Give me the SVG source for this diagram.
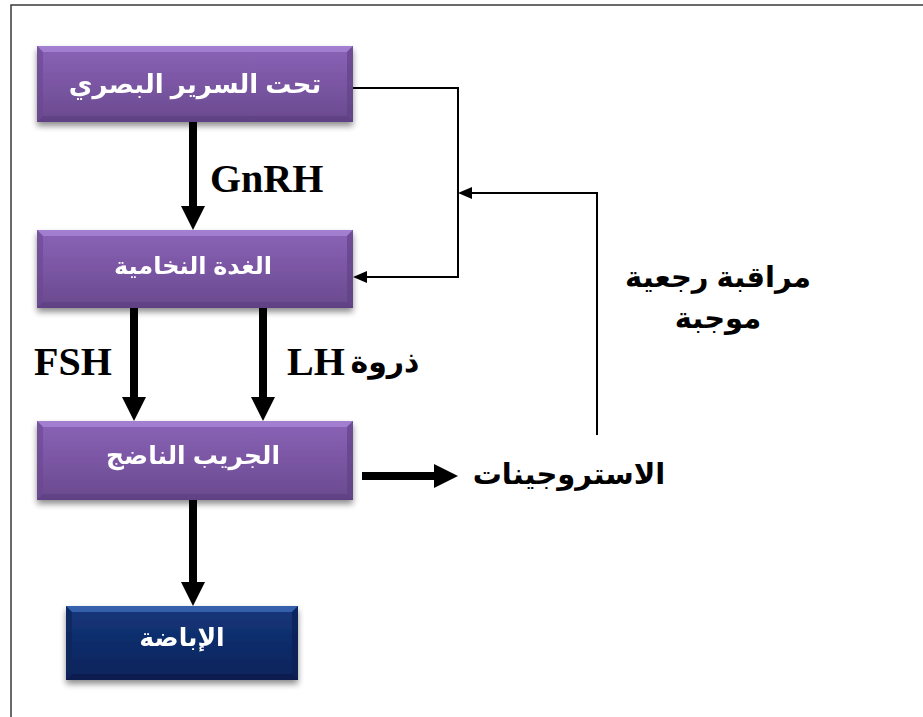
<svg xmlns="http://www.w3.org/2000/svg" width="923" height="717" viewBox="0 0 923 717">
<defs>
<style>
.frame{fill:none;stroke:#3a3a3a;stroke-width:1.5}
.lbl{font-family:"Liberation Sans","DejaVu Sans",sans-serif;font-weight:bold;fill:#ffffff;text-anchor:middle}
.blk{font-family:"Liberation Sans","DejaVu Sans",sans-serif;font-weight:bold;fill:#000000;text-anchor:middle}
.lat{font-family:"Liberation Serif","Times New Roman",serif;font-weight:bold;fill:#000000}
.thick{stroke:#000;stroke-width:8;fill:none}
.thin{stroke:#000;stroke-width:2;fill:none}
.head{fill:#000}
</style>
<linearGradient id="gp" x1="0" y1="0" x2="0" y2="1">
<stop offset="0" stop-color="#8a63b8"/>
<stop offset="0.5" stop-color="#7a56a3"/>
<stop offset="1" stop-color="#6a4a8e"/>
</linearGradient>
<linearGradient id="gb" x1="0" y1="0" x2="0" y2="1">
<stop offset="0" stop-color="#17387c"/>
<stop offset="0.5" stop-color="#0e2c6a"/>
<stop offset="1" stop-color="#0a245c"/>
</linearGradient>
<filter id="sh" x="-10%" y="-10%" width="120%" height="140%">
<feGaussianBlur in="SourceAlpha" stdDeviation="3"/>
<feOffset dx="0" dy="4" result="b"/>
<feComponentTransfer><feFuncA type="linear" slope="0.45"/></feComponentTransfer>
<feMerge><feMergeNode/><feMergeNode in="SourceGraphic"/></feMerge>
</filter>
<marker id="ah" viewBox="0 0 10 10" refX="10" refY="5" markerWidth="8" markerHeight="8" markerUnits="userSpaceOnUse" orient="auto">
<path d="M0,0 L10,5 L0,10 z" fill="#000"/>
</marker>
</defs>
<rect width="923" height="717" fill="#ffffff"/>
<rect class="frame" x="11" y="5" width="930" height="730"/>

<g id="connectors">
<path class="thick" d="M193,122 V207"/>
<polygon class="head" points="181,206 205,206 193,230"/>
<path class="thick" d="M134,308 V398"/>
<polygon class="head" points="122,397 146,397 134,421"/>
<path class="thick" d="M263,308 V398"/>
<polygon class="head" points="251,397 275,397 263,421"/>
<path class="thick" d="M193,500 V583"/>
<polygon class="head" points="181,582 205,582 193,606"/>
<path class="thick" d="M362,476 H436"/>
<polygon class="head" points="434,464 434,488 458,476"/>
<path class="thin" d="M353,88 H458 V277 H366"/>
<polygon class="head" points="353,277 367,271 367,283"/>
<path class="thin" d="M597,435 V193 H471"/>
<polygon class="head" points="458,193 472,187 472,199"/>
</g>

<g id="node-hypothalamus" filter="url(#sh)">
<rect x="37" y="46" width="316" height="76" fill="url(#gp)"/>
<polygon points="37,46 353,46 347,52 43,52" fill="#a886d4" opacity="0.8"/>
<polygon points="37,46 43,52 43,116 37,122" fill="#6a4890" opacity="0.6"/>
<polygon points="353,46 347,52 347,116 353,122" fill="#5e3f82" opacity="0.6"/>
<polygon points="37,122 43,116 347,116 353,122" fill="#5a3c7e" opacity="0.6"/>
<text class="lbl" x="195" y="93" font-size="26">تحت السرير البصري</text>
</g>

<g id="node-pituitary" filter="url(#sh)">
<rect x="37" y="230" width="316" height="78" fill="url(#gp)"/>
<polygon points="37,230 353,230 347,236 43,236" fill="#a886d4" opacity="0.8"/>
<polygon points="37,230 43,236 43,302 37,308" fill="#6a4890" opacity="0.6"/>
<polygon points="353,230 347,236 347,302 353,308" fill="#5e3f82" opacity="0.6"/>
<polygon points="37,308 43,302 347,302 353,308" fill="#5a3c7e" opacity="0.6"/>
<text class="lbl" x="193" y="274" font-size="24">الغدة النخامية</text>
</g>

<g id="node-follicle" filter="url(#sh)">
<rect x="37" y="421" width="316" height="79" fill="url(#gp)"/>
<polygon points="37,421 353,421 347,427 43,427" fill="#a886d4" opacity="0.8"/>
<polygon points="37,421 43,427 43,494 37,500" fill="#6a4890" opacity="0.6"/>
<polygon points="353,421 347,427 347,494 353,500" fill="#5e3f82" opacity="0.6"/>
<polygon points="37,500 43,494 347,494 353,500" fill="#5a3c7e" opacity="0.6"/>
<text class="lbl" x="193" y="464" font-size="25">الجريب الناضج</text>
</g>

<g id="node-ovulation" filter="url(#sh)">
<rect x="66" y="606" width="232" height="74" fill="url(#gb)"/>
<polygon points="66,606 298,606 292,612 72,612" fill="#3d6ab8" opacity="0.8"/>
<polygon points="66,606 72,612 72,674 66,680" fill="#0a2458" opacity="0.6"/>
<polygon points="298,606 292,612 292,674 298,680" fill="#081e4c" opacity="0.6"/>
<polygon points="66,680 72,674 292,674 298,680" fill="#071c48" opacity="0.6"/>
<text class="lbl" x="182" y="646" font-size="25">الإباضة</text>
</g>

<g id="label-gnrh"><text class="lat" x="210" y="192" font-size="40">GnRH</text></g>
<g id="label-fsh"><text class="lat" x="34" y="375" font-size="40">FSH</text></g>
<g id="label-lh"><text class="lat" x="287" y="375" font-size="40">LH</text>
<text class="blk" x="385" y="372" font-size="30">ذروة</text></g>
<g id="node-estrogens"><text class="blk" x="569" y="484" font-size="29">الاستروجينات</text></g>
<g id="label-feedback">
<text class="blk" x="718" y="287" font-size="29">مراقبة رجعية</text>
<text class="blk" x="718" y="328" font-size="29">موجبة</text>
</g>
</svg>
